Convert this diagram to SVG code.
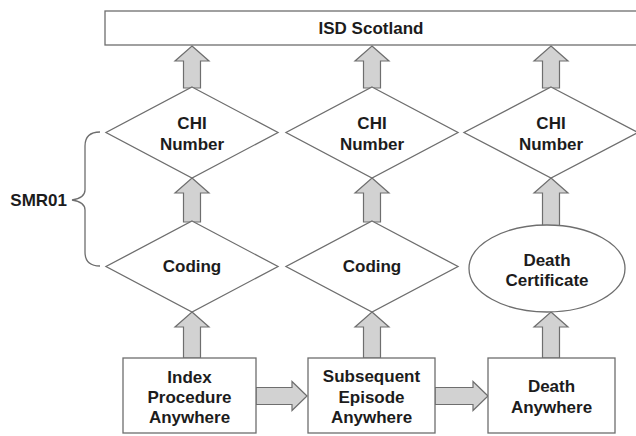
<svg xmlns="http://www.w3.org/2000/svg" width="636" height="436" viewBox="0 0 636 436">
<style>
.shape{fill:#ffffff;stroke:#6e6e6e;stroke-width:1.3}
.arrow{fill:#d2d2d2;stroke:#6e6e6e;stroke-width:1.2;stroke-linejoin:miter}
.brace{fill:none;stroke:#6e6e6e;stroke-width:1.3}
text{font-family:"Liberation Sans",Arial,sans-serif;font-weight:bold;font-size:17px;fill:#1c1c1c;text-anchor:middle}
</style>
<rect width="636" height="436" fill="#ffffff"/>
<g id="isd">
<rect class="shape" x="105" y="11" width="535" height="34"/>
<text x="371" y="34">ISD Scotland</text>
</g>
<g id="connectors">
<polygon class="arrow" points="192,46 209,61 200.5,61 200.5,88 183.5,88 183.5,61 175,61"/>
<polygon class="arrow" points="372,46 389,61 380.5,61 380.5,88 363.5,88 363.5,61 355,61"/>
<polygon class="arrow" points="551,46 568,61 559.5,61 559.5,88 542.5,88 542.5,61 534,61"/>
<polygon class="arrow" points="192,178 209,193 200.5,193 200.5,222 183.5,222 183.5,193 175,193"/>
<polygon class="arrow" points="372,178 389,193 380.5,193 380.5,222 363.5,222 363.5,193 355,193"/>
<polygon class="arrow" points="551,178 568,193 559.5,193 559.5,227 542.5,227 542.5,193 534,193"/>
<polygon class="arrow" points="192,312 209,327 200.5,327 200.5,358 183.5,358 183.5,327 175,327"/>
<polygon class="arrow" points="372,312 389,327 380.5,327 380.5,358 363.5,358 363.5,327 355,327"/>
<polygon class="arrow" points="551,312 568,327 559.5,327 559.5,358 542.5,358 542.5,327 534,327"/>
<polygon class="arrow" points="307,396 292,381.5 292,387.5 256,387.5 256,404.5 292,404.5 292,410.5"/>
<polygon class="arrow" points="488,396 473,381.5 473,387.5 435,387.5 435,404.5 473,404.5 473,410.5"/>
</g>
<g id="chi1">
<polygon class="shape" points="192,87 278,132.5 192,178 106,132.5"/>
<text x="192" y="129">CHI</text>
<text x="192" y="150">Number</text>
</g>
<g id="chi2">
<polygon class="shape" points="372,87 458,132.5 372,178 286,132.5"/>
<text x="372" y="129">CHI</text>
<text x="372" y="150">Number</text>
</g>
<g id="chi3">
<polygon class="shape" points="551,87 638,132.5 551,178 464,132.5"/>
<text x="551" y="129">CHI</text>
<text x="551" y="150">Number</text>
</g>
<g id="coding1">
<polygon class="shape" points="192,221 278,266.5 192,312 106,266.5"/>
<text x="192" y="272">Coding</text>
</g>
<g id="coding2">
<polygon class="shape" points="372,221 458,266.5 372,312 286,266.5"/>
<text x="372" y="272">Coding</text>
</g>
<g id="deathcert">
<ellipse class="shape" cx="547" cy="268.5" rx="78" ry="43.5"/>
<text x="547" y="266">Death</text>
<text x="547" y="286">Certificate</text>
</g>
<g id="index">
<rect class="shape" x="123" y="358" width="133" height="75"/>
<text x="189.5" y="383">Index</text>
<text x="189.5" y="403">Procedure</text>
<text x="189.5" y="423">Anywhere</text>
</g>
<g id="subsequent">
<rect class="shape" x="308" y="358" width="127" height="75"/>
<text x="371.5" y="382">Subsequent</text>
<text x="371.5" y="403">Episode</text>
<text x="371.5" y="423">Anywhere</text>
</g>
<g id="death">
<rect class="shape" x="488" y="358" width="127" height="75"/>
<text x="551.5" y="392">Death</text>
<text x="551.5" y="413">Anywhere</text>
</g>
<g id="smr01">
<path class="brace" d="M100,132 Q85,132 85,146 L85,190 Q85,198 72,200 Q85,202 85,210 L85,252 Q85,266 100,266"/>
<text x="67" y="206" style="text-anchor:end">SMR01</text>
</g>
</svg>
